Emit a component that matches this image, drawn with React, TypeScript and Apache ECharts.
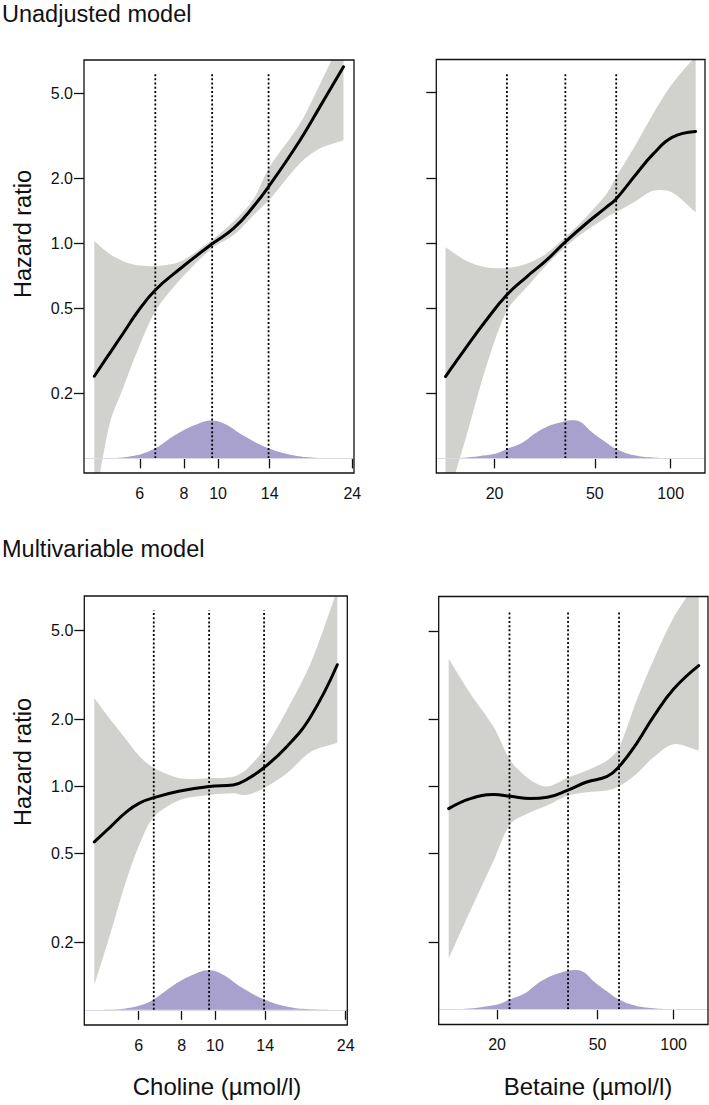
import React, { useEffect, useRef } from "react";
import * as echarts from "echarts";

// ---------- axis settings ----------
const hrTicks = [0.2, 0.5, 1, 2, 5];
const hrMin = 0.0855;
const hrMax = 7.13;
const cholineTicks = [6, 8, 10, 14, 24];
const betaineTicks = [20, 50, 100];
const cholineRange = [4.17, 24.27];
const betaineRange = [11.75, 136.8];
const cholineQuantiles = [6.64, 9.62, 13.9];
const betaineQuantiles = [22.4, 38.2, 60.8];
const quantileLineBottom = 0.1;
const quantileLineTop = 6.15;

// ---------- density of exposure (relative, peak = 1) ----------
const cholineDensityX = [4.46, 4.95, 5.5, 6.1, 6.65, 7.6, 8.6, 9.6, 10.5, 11.9, 13.85, 16.3, 18.7, 22.7];
const cholineDensity = [0, 0.005, 0.035, 0.12, 0.27, 0.63, 0.88, 1, 0.9, 0.58, 0.27, 0.08, 0.018, 0];
const betaineDensityX = [12.8, 15.5, 18.0, 20.3, 22.4, 25.8, 28.8, 32.0, 35.6, 38.5, 40.5, 44.0, 48.5, 54.6, 60.7, 70.8, 85, 101, 125.6];
const betaineDensity = [0, 0.022, 0.075, 0.13, 0.248, 0.41, 0.645, 0.82, 0.93, 0.985, 1, 0.95, 0.7, 0.45, 0.248, 0.09, 0.022, 0.005, 0];

// ---------- Unadjusted model, choline ----------
const unadjCholineX = [4.46, 4.93, 5.38, 5.87, 6.63, 7.79, 9.6, 11.04, 12.58, 13.95, 17.07, 19.48, 22.66];
const unadjCholineHR = [0.241, 0.308, 0.381, 0.472, 0.605, 0.76, 0.993, 1.17, 1.48, 1.85, 3.02, 4.35, 6.63];
const unadjCholineLo = [0.06, 0.145, 0.212, 0.308, 0.481, 0.675, 0.948, 1.09, 1.35, 1.59, 2.36, 2.77, 3.02];
const unadjCholineHi = [1.025, 0.892, 0.827, 0.793, 0.784, 0.821, 1.036, 1.26, 1.6, 2.25, 3.61, 5.55, 9.3];

// ---------- Unadjusted model, betaine ----------
const unadjBetaineX = [12.78, 15.44, 18.5, 22.4, 26.7, 32.0, 38.1, 46.1, 55.6, 60.6, 72.9, 85.1, 101.3, 125.6];
const unadjBetaineHR = [0.24, 0.328, 0.437, 0.575, 0.694, 0.829, 1.01, 1.23, 1.47, 1.6, 2.09, 2.59, 3.1, 3.3];
const unadjBetaineLo = [0.06, 0.126, 0.265, 0.486, 0.62, 0.786, 0.956, 1.14, 1.32, 1.39, 1.57, 1.75, 1.72, 1.39];
const unadjBetaineHi = [0.956, 0.829, 0.772, 0.767, 0.8, 0.891, 1.064, 1.32, 1.69, 2.02, 2.89, 3.98, 5.48, 7.4];

// ---------- Multivariable model, choline ----------
const multiCholineX = [4.46, 4.97, 5.53, 6.05, 6.65, 7.91, 9.63, 11.3, 12.3, 13.85, 16.2, 19.0, 22.7];
const multiCholineHR = [0.565, 0.66, 0.77, 0.845, 0.892, 0.954, 1.0, 1.015, 1.07, 1.21, 1.51, 2.06, 3.51];
const multiCholineLo = [0.129, 0.22, 0.381, 0.556, 0.732, 0.87, 0.916, 0.932, 0.916, 0.98, 1.146, 1.43, 1.57];
const multiCholineHi = [2.49, 1.99, 1.62, 1.36, 1.21, 1.09, 1.09, 1.106, 1.186, 1.46, 2.2, 3.57, 7.6];

// ---------- Multivariable model, betaine ----------
const multiBetaineX = [12.87, 15.69, 19.4, 22.6, 27.1, 31.6, 38.4, 45.3, 54.6, 60.5, 71.3, 83.0, 100, 125.7];
const multiBetaineHR = [0.796, 0.883, 0.92, 0.904, 0.883, 0.895, 0.967, 1.048, 1.11, 1.22, 1.56, 2.05, 2.74, 3.49];
const multiBetaineLo = [0.169, 0.278, 0.466, 0.68, 0.767, 0.822, 0.913, 0.943, 0.96, 1.0, 1.14, 1.35, 1.55, 1.45];
const multiBetaineHi = [3.75, 2.61, 1.85, 1.31, 1.07, 1.0, 1.1, 1.18, 1.31, 1.48, 2.43, 3.67, 5.74, 8.5];

const FONT = '"Liberation Sans", Arial, Helvetica, sans-serif';
const BAND = "#d1d1cd";
const DENS = "#a8a0cd";

const panels = [
  {
    grid: { left: 84, top: 60, width: 270, height: 413 },
    xRange: cholineRange, xTicks: cholineTicks, q: cholineQuantiles,
    dX: cholineDensityX, d: cholineDensity,
    x: unadjCholineX, hr: unadjCholineHR, lo: unadjCholineLo, hi: unadjCholineHi,
    yLabels: true,
  },
  {
    grid: { left: 436.3, top: 59.5, width: 268.7, height: 413.5 },
    xRange: betaineRange, xTicks: betaineTicks, q: betaineQuantiles,
    dX: betaineDensityX, d: betaineDensity,
    x: unadjBetaineX, hr: unadjBetaineHR, lo: unadjBetaineLo, hi: unadjBetaineHi,
    yLabels: false,
  },
  {
    grid: { left: 84.3, top: 596, width: 263, height: 429 },
    xRange: cholineRange, xTicks: cholineTicks, q: cholineQuantiles,
    dX: cholineDensityX, d: cholineDensity,
    x: multiCholineX, hr: multiCholineHR, lo: multiCholineLo, hi: multiCholineHi,
    yLabels: true,
  },
  {
    grid: { left: 438.7, top: 596.5, width: 269.3, height: 428 },
    xRange: betaineRange, xTicks: betaineTicks, q: betaineQuantiles,
    dX: betaineDensityX, d: betaineDensity,
    x: multiBetaineX, hr: multiBetaineHR, lo: multiBetaineLo, hi: multiBetaineHi,
    yLabels: false,
  },
];

// density axis: value 0 sits at HR = 0.1, peak takes ~9.2% of the panel height
const baseFrac = (Math.log10(0.1) - Math.log10(hrMin)) / (Math.log10(hrMax) - Math.log10(hrMin));
const peakFrac = 0.092;
const densMin = -baseFrac / peakFrac;
const densMax = (1 - baseFrac) / peakFrac;

function buildOption() {
  const grid: any[] = [];
  const xAxis: any[] = [];
  const yAxis: any[] = [];
  const series: any[] = [];

  panels.forEach((p, i) => {
    grid.push({
      ...p.grid,
      show: true,
      borderColor: "#111",
      borderWidth: 1.3,
      backgroundColor: "transparent",
      z: 10,
    });
    xAxis.push({
      type: "log",
      logBase: 10,
      gridIndex: i,
      min: p.xRange[0],
      max: p.xRange[1],
      axisLine: { show: false },
      splitLine: { show: false },
      axisTick: {
        show: true,
        inside: false,
        length: 10,
        customValues: p.xTicks,
        lineStyle: { color: "#111", width: 1.3 },
      },
      axisLabel: {
        show: true,
        customValues: p.xTicks,
        margin: 12,
        fontSize: 16,
        fontFamily: FONT,
        color: "#111",
        formatter: (v: number) => String(Math.round(v)),
      },
    });
    yAxis.push({
      type: "log",
      logBase: 10,
      gridIndex: i,
      min: hrMin,
      max: hrMax,
      axisLine: { show: false },
      splitLine: { show: false },
      axisTick: {
        show: true,
        inside: false,
        length: 10,
        customValues: hrTicks,
        lineStyle: { color: "#111", width: 1.3 },
      },
      axisLabel: {
        show: p.yLabels,
        customValues: hrTicks,
        margin: 11,
        fontSize: 16,
        fontFamily: FONT,
        color: "#111",
        formatter: (v: number) => v.toFixed(1),
      },
    });
    yAxis.push({
      type: "value",
      gridIndex: i,
      min: densMin,
      max: densMax,
      show: false,
      splitLine: { show: false },
    });

    const hy = 2 * i;
    const dy = 2 * i + 1;

    // confidence band as one polygon (upper limits forward, lower limits backward)
    series.push({
      type: "custom",
      xAxisIndex: i,
      yAxisIndex: hy,
      clip: true,
      silent: true,
      z: 1,
      encode: { x: 0, y: [1, 2] },
      data: p.x.map((v, k) => [v, p.lo[k], p.hi[k]]),
      renderItem: (params: any, api: any) => {
        if (params.dataIndex !== 0) return null;
        const up = p.x.map((v, k) => api.coord([v, p.hi[k]]));
        const dn = p.x.map((v, k) => api.coord([v, p.lo[k]])).reverse();
        const pts = [up[0], ...up, up[up.length - 1], dn[0], ...dn, dn[dn.length - 1]];
        return {
          type: "polygon",
          shape: { points: pts, smooth: 0.3 },
          style: { fill: BAND, stroke: null },
        };
      },
    });

    // density
    series.push({
      type: "line",
      xAxisIndex: i,
      yAxisIndex: dy,
      data: p.dX.map((v, k) => [v, p.d[k]]),
      symbol: "none",
      smooth: 0.4,
      lineStyle: { width: 0, opacity: 0 },
      areaStyle: { color: DENS, opacity: 1 },
      silent: true,
      z: 2,
      markLine: {
        silent: true,
        symbol: "none",
        label: { show: false },
        lineStyle: { color: "#dcd9e6", width: 1, type: "solid" },
        data: [{ yAxis: 0 }],
      },
    });

    // quantile dotted lines
    p.q.forEach((qv) => {
      series.push({
        type: "line",
        xAxisIndex: i,
        yAxisIndex: hy,
        data: [
          [qv, quantileLineBottom],
          [qv, quantileLineTop],
        ],
        symbol: "none",
        lineStyle: { color: "#000", width: 1.8, type: [2, 2.2] },
        silent: true,
        z: 3,
      });
    });

    // hazard ratio curve
    series.push({
      type: "line",
      xAxisIndex: i,
      yAxisIndex: hy,
      data: p.x.map((v, k) => [v, p.hr[k]]),
      symbol: "none",
      smooth: 0.45,
      lineStyle: { color: "#000", width: 3, cap: "round" },
      silent: true,
      z: 4,
    });
  });

  const textStyle = (size: number) => ({ fontSize: size, fontFamily: FONT, fill: "#111" });

  const graphic = [
    { type: "text", left: 2, top: 2, style: { text: "Unadjusted model", ...textStyle(23.5) } },
    { type: "text", left: 2, top: 537, style: { text: "Multivariable model", ...textStyle(23.5) } },
    {
      type: "text", x: 22.5, y: 234, rotation: Math.PI / 2,
      style: { text: "Hazard ratio", ...textStyle(23.5), textAlign: "center", textVerticalAlign: "middle" },
    },
    {
      type: "text", x: 22.5, y: 762, rotation: Math.PI / 2,
      style: { text: "Hazard ratio", ...textStyle(23.5), textAlign: "center", textVerticalAlign: "middle" },
    },
    {
      type: "text", x: 217, y: 1086,
      style: { text: "Choline (µmol/l)", ...textStyle(24), textAlign: "center", textVerticalAlign: "middle" },
    },
    {
      type: "text", x: 588, y: 1086,
      style: { text: "Betaine (µmol/l)", ...textStyle(24), textAlign: "center", textVerticalAlign: "middle" },
    },
  ];

  return {
    animation: false,
    backgroundColor: "#fff",
    grid,
    xAxis,
    yAxis,
    series,
    graphic,
  };
}

export default function App() {
  const ref = useRef<HTMLDivElement>(null);
  useEffect(() => {
    if (!ref.current) return;
    const chart = echarts.init(ref.current, null, { renderer: "svg" });
    chart.setOption(buildOption() as any);
    return () => chart.dispose();
  }, []);
  return (
    <div
      ref={ref}
      style={{ position: "fixed", left: 0, top: 0, width: 709, height: 1105, background: "#fff" }}
    />
  );
}
